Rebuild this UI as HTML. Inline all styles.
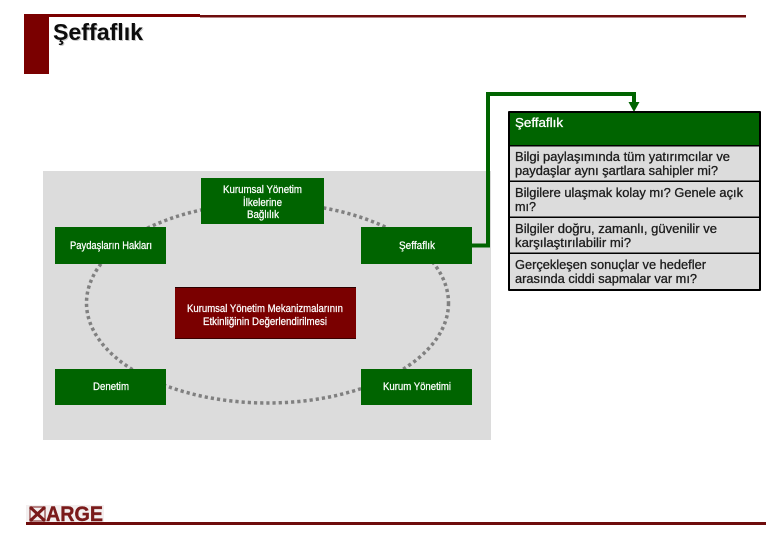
<!DOCTYPE html>
<html><head><meta charset="utf-8"><style>
html,body{margin:0;padding:0;background:#fff}
svg{display:block}
text{font-family:"Liberation Sans",sans-serif}
.d{font-size:11px;fill:#fff;stroke:#fff;stroke-width:.25px}
.t{font-size:12.5px;fill:#1c1c1c;stroke:#1c1c1c;stroke-width:.3px}
</style></head><body>
<svg width="780" height="540" viewBox="0 0 780 540" xmlns="http://www.w3.org/2000/svg">
<rect width="780" height="540" fill="#fff"/>
<!-- header -->
<rect x="24" y="14" width="25" height="60" fill="#7a0000"/>
<rect x="24" y="14" width="176" height="3" fill="#7a0000"/>
<rect x="200" y="15" width="546" height="2.5" fill="#6e0c0c"/>
<text x="54" y="41" font-size="23.500" font-weight="bold" fill="#c8c8c8" textLength="90" lengthAdjust="spacingAndGlyphs">Şeffaflık</text>
<text x="53" y="40" font-size="23.500" font-weight="bold" fill="#0c0c0c" textLength="90" lengthAdjust="spacingAndGlyphs">Şeffaflık</text>
<!-- diagram -->
<rect x="43" y="171" width="448" height="269" fill="#dcdcdc"/>
<ellipse cx="267.5" cy="303" rx="181" ry="100" fill="none" stroke="#808080" stroke-width="3.500" stroke-dasharray="3.200 3"/>
<rect x="201" y="178" width="123" height="46" fill="#006400"/>
<rect x="55" y="227" width="111" height="37" fill="#006400"/>
<rect x="361" y="227" width="111" height="37" fill="#006400"/>
<rect x="55" y="369" width="111" height="36" fill="#006400"/>
<rect x="361" y="369" width="111" height="36" fill="#006400"/>
<rect x="175" y="287" width="181" height="52" fill="#7a0000"/>
<rect x="175" y="287" width="181" height="1" fill="#2a0000"/>
<rect x="175" y="338" width="181" height="1" fill="#3a0000"/>
<text class="d" x="223" y="193" textLength="79" lengthAdjust="spacingAndGlyphs">Kurumsal Yönetim</text>
<text class="d" x="243" y="206" textLength="39" lengthAdjust="spacingAndGlyphs">İlkelerine</text>
<text class="d" x="247" y="218" textLength="32" lengthAdjust="spacingAndGlyphs">Bağlılık</text>
<text class="d" x="70" y="249" textLength="82" lengthAdjust="spacingAndGlyphs">Paydaşların Hakları</text>
<text class="d" x="399" y="249" textLength="36" lengthAdjust="spacingAndGlyphs">Şeffaflık</text>
<text class="d" x="187" y="312" textLength="156" lengthAdjust="spacingAndGlyphs">Kurumsal Yönetim Mekanizmalarının</text>
<text class="d" x="203" y="325" textLength="124" lengthAdjust="spacingAndGlyphs">Etkinliğinin Değerlendirilmesi</text>
<text class="d" x="93" y="390" textLength="36" lengthAdjust="spacingAndGlyphs">Denetim</text>
<text class="d" x="383" y="390" textLength="68" lengthAdjust="spacingAndGlyphs">Kurum Yönetimi</text>
<!-- connector -->
<path d="M472 245.500H488V94H634V104" fill="none" stroke="#006400" stroke-width="4"/>
<path d="M628.500 102H639.500L634 112Z" fill="#006400"/>
<!-- table -->
<rect x="508" y="111" width="253" height="180" rx="1" fill="#000"/>
<rect x="510" y="113" width="249" height="32" fill="#006400"/>
<rect x="510" y="146.500" width="249" height="34" fill="#dcdcdc"/>
<rect x="510" y="182" width="249" height="34.500" fill="#dcdcdc"/>
<rect x="510" y="218" width="249" height="34.500" fill="#dcdcdc"/>
<rect x="510" y="254" width="249" height="35" fill="#dcdcdc"/>
<text x="515" y="127" font-size="12.500" fill="#fff" stroke="#fff" stroke-width=".3" textLength="48" lengthAdjust="spacingAndGlyphs">Şeffaflık</text>
<text class="t" x="515" y="161" textLength="215" lengthAdjust="spacingAndGlyphs">Bilgi paylaşımında tüm yatırımcılar ve</text>
<text class="t" x="515" y="175" textLength="203" lengthAdjust="spacingAndGlyphs">paydaşlar aynı şartlara sahipler mi?</text>
<text class="t" x="515" y="197" textLength="228" lengthAdjust="spacingAndGlyphs">Bilgilere ulaşmak kolay mı? Genele açık</text>
<text class="t" x="515" y="211" textLength="21" lengthAdjust="spacingAndGlyphs">mı?</text>
<text class="t" x="515" y="233" textLength="202" lengthAdjust="spacingAndGlyphs">Bilgiler doğru, zamanlı, güvenilir ve</text>
<text class="t" x="515" y="247" textLength="116" lengthAdjust="spacingAndGlyphs">karşılaştırılabilir mi?</text>
<text class="t" x="515" y="269" textLength="191" lengthAdjust="spacingAndGlyphs">Gerçekleşen sonuçlar ve hedefler</text>
<text class="t" x="515" y="283" textLength="182" lengthAdjust="spacingAndGlyphs">arasında ciddi sapmalar var mı?</text>
<!-- footer -->
<rect x="26" y="505" width="78" height="17" fill="#f3efef"/>
<g fill="none" stroke="#7a1a1a">
<path d="M30 507H45V521H30Z" stroke-width="1"/>
<path d="M30 507L45 521M45 507L30 521" stroke-width="3"/>
</g>
<text x="46" y="521" font-size="21" font-weight="bold" fill="#7a1a1a" stroke="#7a1a1a" stroke-width=".4" textLength="57" lengthAdjust="spacingAndGlyphs">ARGE</text>
<rect x="26" y="522" width="740" height="3" fill="#6e0c0c"/>
</svg>
</body></html>
